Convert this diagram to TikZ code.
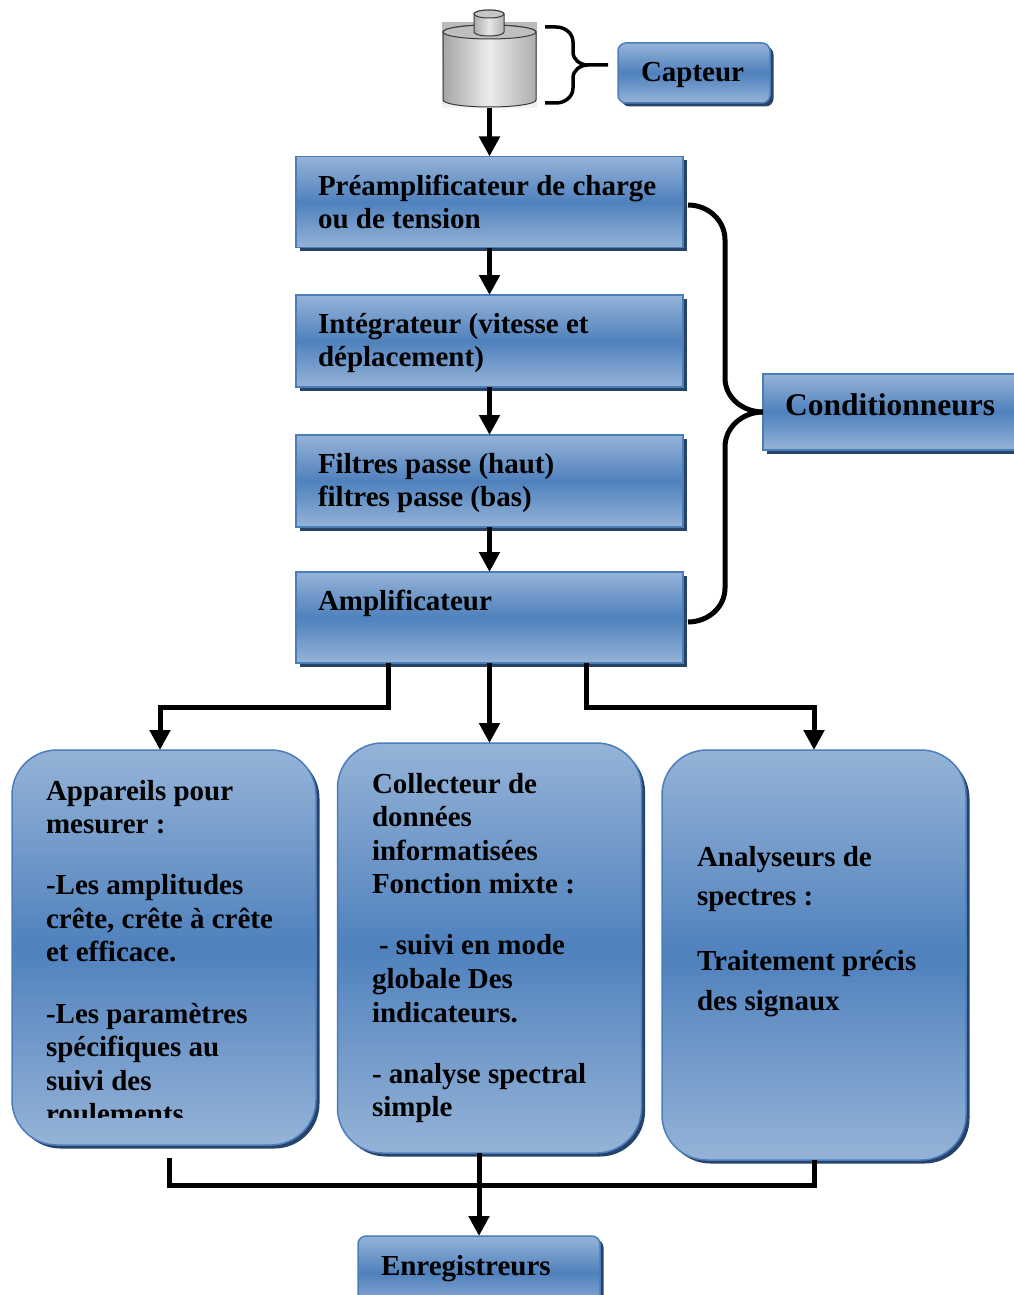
\documentclass[tikz,border=0pt]{standalone}
\usepackage{fontspec}
\setmainfont{Liberation Serif}
\usetikzlibrary{arrows.meta,calc,shadows}
\definecolor{lightb}{HTML}{95B3D7}
\definecolor{midb}{HTML}{4F81BD}
\definecolor{bordc}{HTML}{4A7EBB}
\definecolor{shadowc}{HTML}{27436A}
\begin{document}
\begin{tikzpicture}[x=1pt,y=-1pt,
  bx/.style={draw=bordc, line width=1.5pt, top color=lightb, bottom color=lightb, middle color=midb,
    drop shadow={shadow xshift=3.5pt, shadow yshift=-3.5pt, fill=shadowc, opacity=1},
    inner sep=0pt, outer sep=0pt},
  rbx/.style={bx, rounded corners=45pt, minimum width=304pt},
  sbx/.style={bx, rounded corners=8pt},
  txt/.style={inner sep=0pt, outer sep=0pt, anchor=base west, font=\bfseries\fontsize{29}{33.6}\selectfont},
  arr/.style={line width=5pt, -{Triangle[width=20pt,length=20pt]}},
  ln/.style={line width=5pt},
  bracestyle/.style={line width=5pt},
  metal/.style={draw=gray!45!black, line width=1pt}
]
\useasboundingbox (0,0) rectangle (1013,1295);

% ---------- sensor picture ----------
\fill[top color=gray!55, bottom color=gray!10] (442,23) rectangle (537,108);
\path[metal, left color=gray!70, right color=gray!65, middle color=gray!15]
  (443,32) -- (443,100) arc[start angle=180, end angle=0, x radius=46.5, y radius=7]
  -- (536,32) arc[start angle=0, end angle=-180, x radius=46.5, y radius=7] -- cycle;
\draw[metal, fill=gray!50] (489.5,32) ellipse[x radius=46.5, y radius=7];
\path[metal, left color=gray!65, right color=gray!60, middle color=gray!20]
  (474,14) -- (474,32) arc[start angle=180, end angle=0, x radius=15, y radius=4]
  -- (504,14) arc[start angle=0, end angle=-180, x radius=15, y radius=4] -- cycle;
\draw[metal, fill=gray!45] (489,14) ellipse[x radius=15, y radius=4];
\coordinate (sens) at (489.5,108);

% sensor brace
\draw[line width=3.5pt] (545,27) -- (556,27) to[out=0,in=90] (573,42) -- (573,52)
  to[out=-90,in=180] (588,65) -- (608,65);
\draw[line width=3.5pt] (588,65) to[out=180,in=90] (573,78) -- (573,88)
  to[out=-90,in=0] (556,103) -- (545,103);

% ---------- boxes ----------
\node[sbx, minimum width=152pt, minimum height=60pt] (cap) at (694,73) {};
\node[txt] (capt) at (641,82) {Capteur};

\node[bx, minimum width=387pt, minimum height=91pt] (b1) at (489.5,202) {};
\node[txt] (t1) at (318,195) {\parbox[t]{370pt}{Préamplificateur de charge\\ou de tension}};

\node[bx, minimum width=387pt, minimum height=92pt] (b2) at (489.5,341) {};
\node[txt] (t2) at (318,333) {\parbox[t]{370pt}{Intégrateur (vitesse et\\déplacement)}};

\node[bx, minimum width=387pt, minimum height=92pt] (b3) at (489.5,481) {};
\node[txt] (t3) at (318,473) {\parbox[t]{370pt}{Filtres passe (haut)\\filtres passe (bas)}};

\node[bx, minimum width=387pt, minimum height=91pt] (b4) at (489.5,617.5) {};
\node[txt] (t4) at (318,610) {Amplificateur};

\node[bx, minimum width=257pt, minimum height=76pt] (cond) at (891.5,412) {};
\node[txt, font=\bfseries\fontsize{31.5}{36}\selectfont] (condt) at (785,415) {Conditionneurs};

\node[rbx, minimum height=395pt] (bl) at (164,947.5) {};
\begin{scope}
  \clip (0,740) rectangle (330,1117);
  \node[txt] (tl) at (46,800) {\parbox[t]{280pt}{Appareils pour\\mesurer :\\[27.5pt]-Les amplitudes\\crête, crête à crête\\et efficace.\\[27.5pt]-Les paramètres\\spécifiques au\\suivi des\\roulements}};
\end{scope}

\node[rbx, minimum height=410pt] (bm) at (489.5,948) {};
\node[txt] (tm) at (372,793) {\parbox[t]{280pt}{Collecteur de\\données\\informatisées\\Fonction mixte :\\[27.5pt]\hspace*{7pt}- suivi en mode\\globale Des\\indicateurs.\\[27.5pt]- analyse spectral\\simple}};

\node[rbx, minimum height=410pt] (br) at (814,955) {};
\node[txt, font=\bfseries\fontsize{29}{39.5}\selectfont] (tr) at (697,866) {\parbox[t]{260pt}{Analyseurs de\\spectres :\\[25.5pt]Traitement précis\\des signaux}};

\node[sbx, minimum width=242pt, minimum height=74pt] (enr) at (479,1273) {};
\node[txt] (enrt) at (381,1275) {Enregistreurs};

% ---------- connectors ----------
\draw[arr] (sens) -- (b1.north);
\draw[arr] (b1.south) -- (b2.north);
\draw[arr] (b2.south) -- (b3.north);
\draw[arr] (b3.south) -- (b4.north);

% big brace
\draw[bracestyle] (688,205) to[out=0,in=90] (725,240) -- (725,378) to[out=-90,in=180] (cond.west);
\draw[bracestyle] (cond.west) to[out=180,in=90] (725,447) -- (725,588) to[out=-90,in=0] (688,622);

\draw[arr] ($(b4.south)+(-101.5,0)$) -- ++(0,44) -| ($(bl.north)+(-4,0)$);
\draw[arr] (b4.south) -- (bm.north);
\draw[arr] ($(b4.south)+(96.5,0)$) -- ++(0,44) -| (br.north);

\draw[ln] ($(bl.south)+(5,13)$) |- ($(br.south)+(0,25)$) -- (br.south);
\draw[arr] (enr.north |- bm.south) -- (enr.north);
\end{tikzpicture}
\end{document}
